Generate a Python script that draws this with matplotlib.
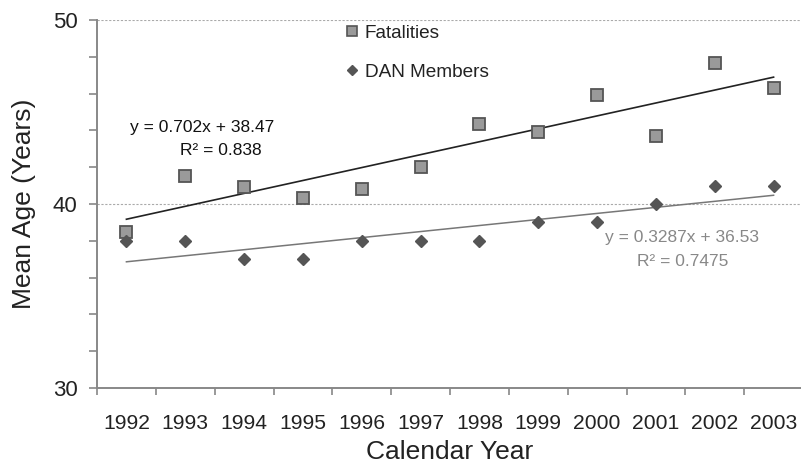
import numpy as np
import matplotlib
matplotlib.use("Agg")
import matplotlib.pyplot as plt
from matplotlib.lines import Line2D

years = ["1992", "1993", "1994", "1995", "1996", "1997", "1998", "1999",
         "2000", "2001", "2002", "2003"]
fatalities = [38.5, 41.5, 40.9, 40.3, 40.8, 42.0, 44.35, 43.9, 45.9, 43.7, 47.65, 46.3]
dan_members = [38, 38, 37, 37, 38, 38, 38, 39, 39, 40, 41, 41]
fat_trend = (0.702, 38.47)
dan_trend = (0.3287, 36.53)

plt.rcParams['font.family'] = ['Liberation Sans', 'DejaVu Sans']

fig = plt.figure(figsize=(8.01, 4.68), dpi=100)
ax = fig.add_axes([97/801, 80/468, 706/801, 368/468])

x = np.arange(1, len(years) + 1)

# gridlines
for gy in (40, 50):
    ax.axhline(gy, color='#aaaaaa', lw=0.8, ls=(0, (2, 1.5)), zorder=0)

# trend lines
xt = np.array([x[0], x[-1]])
ax.plot(xt, fat_trend[0] * xt + fat_trend[1], color='#222222', lw=1.2, zorder=2)
ax.plot(xt, dan_trend[0] * xt + dan_trend[1], color='#777777', lw=1.1, zorder=2)

# markers
ax.plot(x, fatalities, ls='none', marker='s', ms=9, mfc='#9a9a9a', mec='#555555',
        mew=1.3, zorder=3)
ax.plot(x, dan_members, ls='none', marker='D', ms=6.5, mfc='#555555', mec='#555555',
        zorder=3)

ax.set_xlim(0.5, len(years) + 0.5)
ax.set_ylim(30, 50)

ax.set_xticks(np.arange(0.5, len(years) + 1, 1))
ax.set_xticklabels([])
ax.set_xticks(x, minor=True)
ax.set_xticklabels(years, minor=True)
ax.tick_params(axis='x', which='major', direction='out', length=5, width=1.2,
               color='#888888')
ax.tick_params(axis='x', which='minor', length=0, pad=19, labelsize=15.2,
               labelcolor='#222222')

ax.set_yticks([30, 40, 50])
ax.set_yticks(np.arange(30, 51, 2), minor=True)
ax.tick_params(axis='y', which='both', direction='out', length=6, width=1.2,
               color='#888888', labelsize=16, labelcolor='#222222', pad=8)

for s in ('top', 'right'):
    ax.spines[s].set_visible(False)
for s in ('left', 'bottom'):
    ax.spines[s].set_color('#888888')
    ax.spines[s].set_linewidth(1.4)

ax.set_xlabel('Calendar Year', fontsize=19, color='#222222', labelpad=5)
ax.set_ylabel('Mean Age (Years)', fontsize=19, color='#222222', labelpad=12)

# trendline labels
ax.text(2.29, 44.18, 'y = 0.702x + 38.47', fontsize=12.5, color='#111111',
        ha='center', va='center')
ax.text(2.61, 42.93, 'R² = 0.838', fontsize=12.5, color='#111111',
        ha='center', va='center')
ax.text(10.44, 38.2, 'y = 0.3287x + 36.53', fontsize=12.5, color='#888888',
        ha='center', va='center')
ax.text(10.46, 36.85, 'R² = 0.7475', fontsize=12.5, color='#888888',
        ha='center', va='center')

handles = [
    Line2D([], [], ls='none', marker='s', ms=7.5, mfc='#9a9a9a', mec='#555555', mew=1.2),
    Line2D([], [], ls='none', marker='D', ms=5.5, mfc='#555555', mec='#555555'),
]
leg = fig.legend(handles, ['Fatalities', 'DAN Members'], loc='upper left',
                 bbox_to_anchor=(337/801, 1 - 15/468), frameon=False,
                 fontsize=13.7, handlelength=0.6, handletextpad=0.35,
                 labelspacing=1.15, borderpad=0)
for t in leg.get_texts():
    t.set_color('#222222')

fig.savefig('out.png', dpi=100)
